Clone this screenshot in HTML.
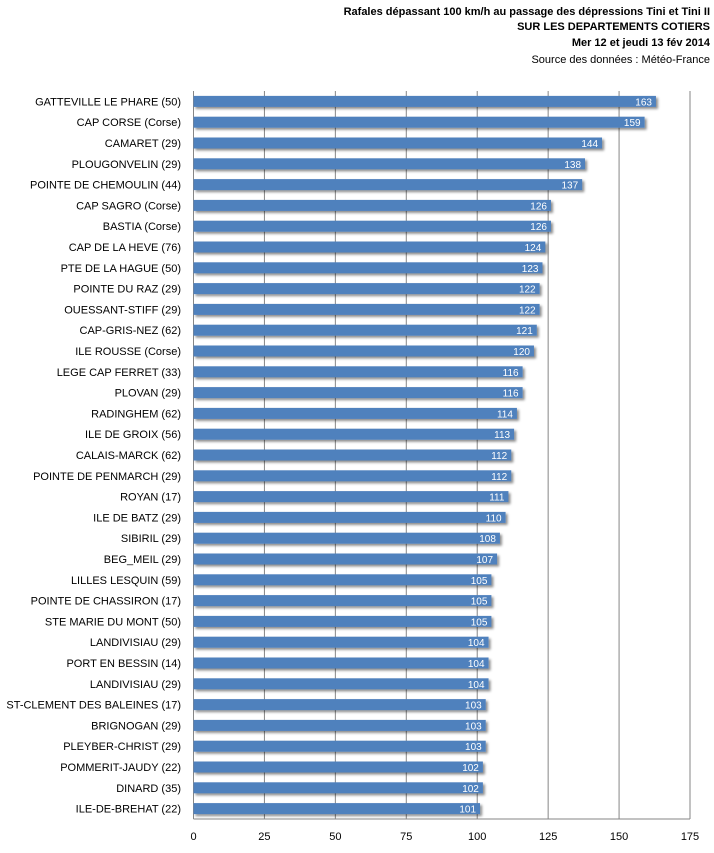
<!DOCTYPE html>
<html><head><meta charset="utf-8"><style>
body{margin:0;background:#fff;}
svg{display:block;font-family:"Liberation Sans",sans-serif;}
</style></head><body>
<svg id="c" width="714" height="853">
<defs><filter id="sh" x="-5%" y="-30%" width="115%" height="180%"><feDropShadow dx="2" dy="2" stdDeviation="1.2" flood-color="#000" flood-opacity="0.45"/></filter></defs>
<g font-size="11" text-anchor="end" fill="#000">
<text x="710" y="15" font-weight="bold">Rafales  dépassant  100 km/h au passage  des dépressions Tini  et Tini II</text>
<text x="710" y="30" font-weight="bold">SUR  LES DEPARTEMENTS   COTIERS</text>
<text x="710" y="46" font-weight="bold">Mer 12 et jeudi 13 fév 2014</text>
<text x="710" y="63">Source des données : Météo-France</text>
</g>
<g id="grid"></g><g id="bars"></g><g id="labels"></g><g id="ticks"></g>
</svg>
<script>
const categories=["GATTEVILLE LE PHARE (50)","CAP CORSE (Corse)","CAMARET (29)","PLOUGONVELIN (29)","POINTE DE CHEMOULIN (44)","CAP SAGRO (Corse)","BASTIA (Corse)","CAP DE LA HEVE (76)","PTE DE LA HAGUE (50)","POINTE DU RAZ (29)","OUESSANT-STIFF (29)","CAP-GRIS-NEZ (62)","ILE ROUSSE (Corse)","LEGE CAP FERRET (33)","PLOVAN (29)","RADINGHEM (62)","ILE DE GROIX (56)","CALAIS-MARCK (62)","POINTE DE PENMARCH (29)","ROYAN (17)","ILE DE BATZ (29)","SIBIRIL (29)","BEG_MEIL (29)","LILLES LESQUIN (59)","POINTE DE CHASSIRON (17)","STE MARIE DU MONT (50)","LANDIVISIAU (29)","PORT EN BESSIN (14)","LANDIVISIAU (29)","ST-CLEMENT DES BALEINES (17)","BRIGNOGAN (29)","PLEYBER-CHRIST (29)","POMMERIT-JAUDY (22)","DINARD (35)","ILE-DE-BREHAT (22)"];
const values=[163,159,144,138,137,126,126,124,123,122,122,121,120,116,116,114,113,112,112,111,110,108,107,105,105,105,104,104,104,103,103,103,102,102,101];
const tickValues=[0,25,50,75,100,125,150,175];
const NS="http://www.w3.org/2000/svg";
const X0=193.5,X1=690,Y0=91,Y1=819,MAX=175;
const x=v=>X0+(X1-X0)*v/MAX;
const band=(Y1-Y0)/categories.length;
const y=i=>Y0+band*i;
function mk(t,a,p){const e=document.createElementNS(NS,t);for(const k in a)e.setAttribute(k,a[k]);document.getElementById(p).appendChild(e);return e;}
tickValues.forEach(t=>{
 const l=mk('line',{x1:x(t),x2:x(t),y1:Y0,y2:Y1,stroke:'#868686','stroke-width':1},'grid');
 
 
 const tx=mk('text',{x:x(t),y:840,'font-size':11,'text-anchor':'middle',fill:'#000'},'ticks');
 tx.textContent=t;
 
 
});
const ax=mk('line',{x1:X0,x2:X1,y1:Y1,y2:Y1,stroke:'#868686'},'grid');


categories.forEach((c,i)=>{
 const cy=y(i)+band/2;
 const r=mk('rect',{x:X0,y:cy-5.5,width:x(values[i])-X0,height:11,fill:'#4f81bd',filter:'url(#sh)'},'bars');
 
 
 const v=mk('text',{x:x(values[i])-4,y:cy+4,'font-size':10,'text-anchor':'end',fill:'#fff'},'bars');
 v.textContent=values[i];
 
 
 const lb=mk('text',{x:181,y:cy+4,'font-size':11,'text-anchor':'end',fill:'#000'},'labels');
 lb.textContent=c;
 
 
});
</script>
</body></html>
